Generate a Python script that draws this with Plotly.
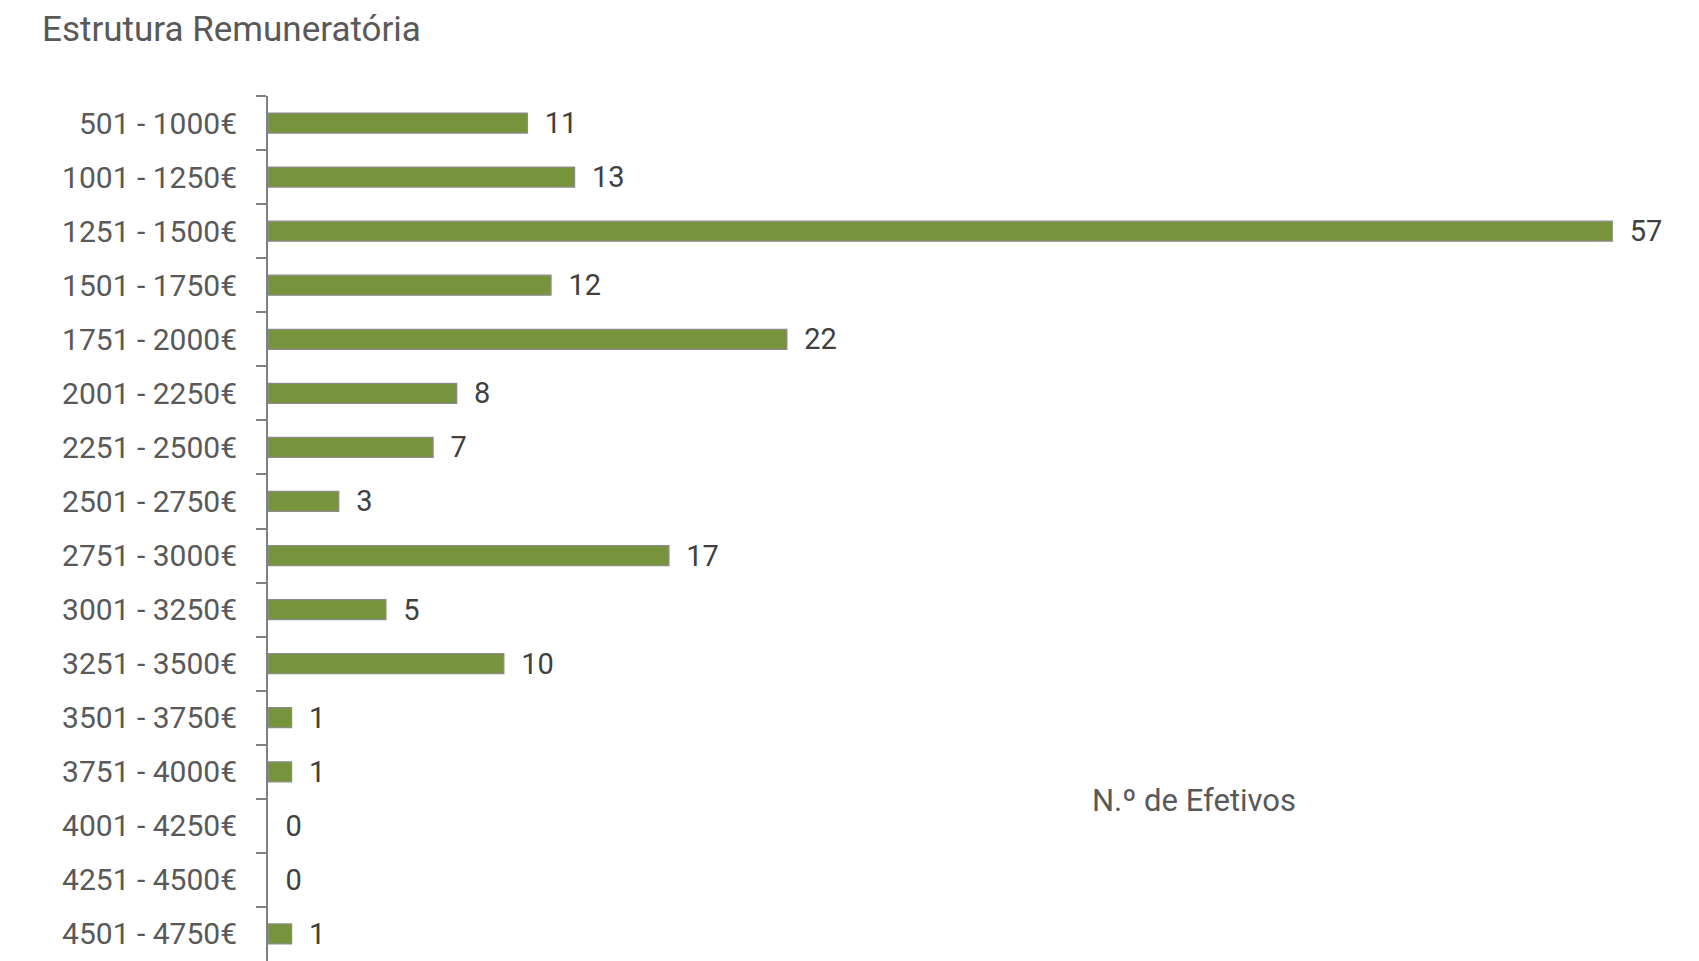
import plotly.graph_objects as go

categories = ["501 - 1000€", "1001 - 1250€", "1251 - 1500€", "1501 - 1750€", "1751 - 2000€",
              "2001 - 2250€", "2251 - 2500€", "2501 - 2750€", "2751 - 3000€", "3001 - 3250€",
              "3251 - 3500€", "3501 - 3750€", "3751 - 4000€", "4001 - 4250€", "4251 - 4500€",
              "4501 - 4750€"]
values = [11, 13, 57, 12, 22, 8, 7, 3, 17, 5, 10, 1, 1, 0, 0, 1]
series_name = "N.º de Efetivos"
title_text = "Estrutura Remuneratória"

W, H = 1691, 953
ml, mr, mt, mb = 260, 16, 88, 0
pw = W - ml - mr
ph = H - mt - mb

fig = go.Figure(go.Bar(
    y=categories, x=values, orientation="h",
    marker=dict(color="#77933C",
                line=dict(color="#8C8C8C", width=[1.3 if v > 0 else 0 for v in values])),
    width=0.37,
    text=["\u00a0\u00a0" + str(v) for v in values], textposition="outside",
    constraintext="none",
    textfont=dict(family="Roboto", size=29, color="#404040"),
    cliponaxis=False, name=series_name, showlegend=False,
))

fig.update_layout(
    width=W, height=H, margin=dict(l=ml, r=mr, t=mt, b=mb),
    plot_bgcolor="white", paper_bgcolor="white",
    font=dict(family="Roboto", color="#595959"),
    xaxis=dict(range=[0, 60], visible=False, showgrid=False, zeroline=False),
    yaxis=dict(autorange=False, range=[15.5, -0.5], type="category",
               showline=True, linecolor="#808080", linewidth=2,
               ticks="outside", ticklen=10, tickcolor="#808080", tickwidth=2,
               tickson="boundaries", ticklabelstandoff=23,
               tickfont=dict(family="Roboto", size=30, color="#595959"),
               showgrid=False),
    annotations=[
        dict(text=title_text, xref="paper", yref="paper",
             x=(32 - ml) / pw, y=1 + (mt - 22) / ph, xanchor="left", yanchor="middle",
             showarrow=False, font=dict(family="Roboto", size=35, color="#595959")),
        dict(text=series_name, xref="paper", yref="paper",
             x=(1186 - ml) / pw, y=1 - (792 - mt) / ph, xanchor="center", yanchor="middle",
             showarrow=False, font=dict(family="Roboto", size=31, color="#595959")),
    ],
)

fig.write_html("out.html")
